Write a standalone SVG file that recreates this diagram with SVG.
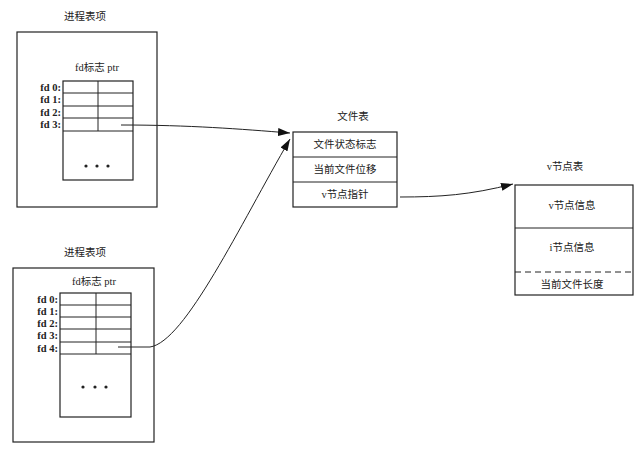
<svg xmlns="http://www.w3.org/2000/svg" width="637" height="449" viewBox="0 0 637 449">
<defs>
<marker id="ah" viewBox="0 0 12 8" refX="12" refY="4" markerWidth="12" markerHeight="8" markerUnits="userSpaceOnUse" orient="auto">
<path d="M0,0 L12,4 L0,8 Z" fill="#111"/>
</marker>
<style>
.box{fill:none;stroke:#222;stroke-width:1.2}
.ln{stroke:#222;stroke-width:1}
.t{font-family:"Liberation Serif","Noto Sans CJK SC",serif;font-size:10.5px;fill:#222;text-anchor:middle}
.fd{font-family:"Liberation Serif","Noto Sans CJK SC",serif;font-size:10.5px;font-weight:bold;fill:#222;text-anchor:end}
.dot{fill:#222}
.conn{fill:none;stroke:#222;stroke-width:1}
</style>
</defs>
<rect width="637" height="449" fill="#fff"/>

<g id="proc1">
<text class="t" x="85" y="20">进程表项</text>
<rect class="box" x="17" y="32" width="140" height="175"/>
<text class="t" x="97" y="71">fd标志 ptr</text>
<rect class="box" x="63" y="81" width="70" height="99"/>
<line class="ln" x1="63" y1="93" x2="133" y2="93"/>
<line class="ln" x1="63" y1="106" x2="133" y2="106"/>
<line class="ln" x1="63" y1="118" x2="133" y2="118"/>
<line class="ln" x1="63" y1="131" x2="133" y2="131"/>
<line class="ln" x1="98" y1="81" x2="98" y2="131"/>
<text class="fd" x="61" y="91">fd 0:</text>
<text class="fd" x="61" y="103">fd 1:</text>
<text class="fd" x="61" y="116">fd 2:</text>
<text class="fd" x="61" y="128">fd 3:</text>
<circle class="dot" cx="86" cy="166" r="1.6"/>
<circle class="dot" cx="97" cy="166" r="1.6"/>
<circle class="dot" cx="108" cy="166" r="1.6"/>
</g>

<g id="proc2">
<text class="t" x="85" y="256">进程表项</text>
<rect class="box" x="13" y="268" width="141" height="174"/>
<text class="t" x="94" y="285">fd标志 ptr</text>
<rect class="box" x="60" y="293" width="71" height="124"/>
<line class="ln" x1="60" y1="305" x2="131" y2="305"/>
<line class="ln" x1="60" y1="317" x2="131" y2="317"/>
<line class="ln" x1="60" y1="329" x2="131" y2="329"/>
<line class="ln" x1="60" y1="342" x2="131" y2="342"/>
<line class="ln" x1="60" y1="354" x2="131" y2="354"/>
<line class="ln" x1="96" y1="293" x2="96" y2="354"/>
<text class="fd" x="58" y="303">fd 0:</text>
<text class="fd" x="58" y="315">fd 1:</text>
<text class="fd" x="58" y="327">fd 2:</text>
<text class="fd" x="58" y="339">fd 3:</text>
<text class="fd" x="58" y="352">fd 4:</text>
<circle class="dot" cx="83" cy="387" r="1.6"/>
<circle class="dot" cx="95" cy="387" r="1.6"/>
<circle class="dot" cx="106" cy="387" r="1.6"/>
</g>

<g id="filetable">
<text class="t" x="353" y="120">文件表</text>
<rect class="box" x="293" y="132" width="104" height="75"/>
<line class="ln" x1="293" y1="157" x2="397" y2="157"/>
<line class="ln" x1="293" y1="182" x2="397" y2="182"/>
<text class="t" x="345" y="148">文件状态标志</text>
<text class="t" x="345" y="173">当前文件位移</text>
<text class="t" x="345" y="198">v节点指针</text>
</g>

<g id="vnodetable">
<text class="t" x="565" y="170">v节点表</text>
<rect class="box" x="515" y="185" width="118" height="110"/>
<line class="ln" x1="515" y1="228" x2="633" y2="228"/>
<line class="ln" x1="515" y1="272" x2="633" y2="272" stroke-dasharray="6,4" stroke-width="1.3"/>
<text class="t" x="572" y="209">v节点信息</text>
<text class="t" x="572" y="251">i节点信息</text>
<text class="t" x="572" y="288">当前文件长度</text>
</g>

<g id="connectors">
<path class="conn" d="M121,125 C190,125 240,129 290,133" marker-end="url(#ah)"/>
<path class="conn" d="M118,347 L150,347 C185,342 240,225 290,139" marker-end="url(#ah)"/>
<path class="conn" d="M400,197 C440,197 470,195 513,184" marker-end="url(#ah)"/>
</g>
</svg>
